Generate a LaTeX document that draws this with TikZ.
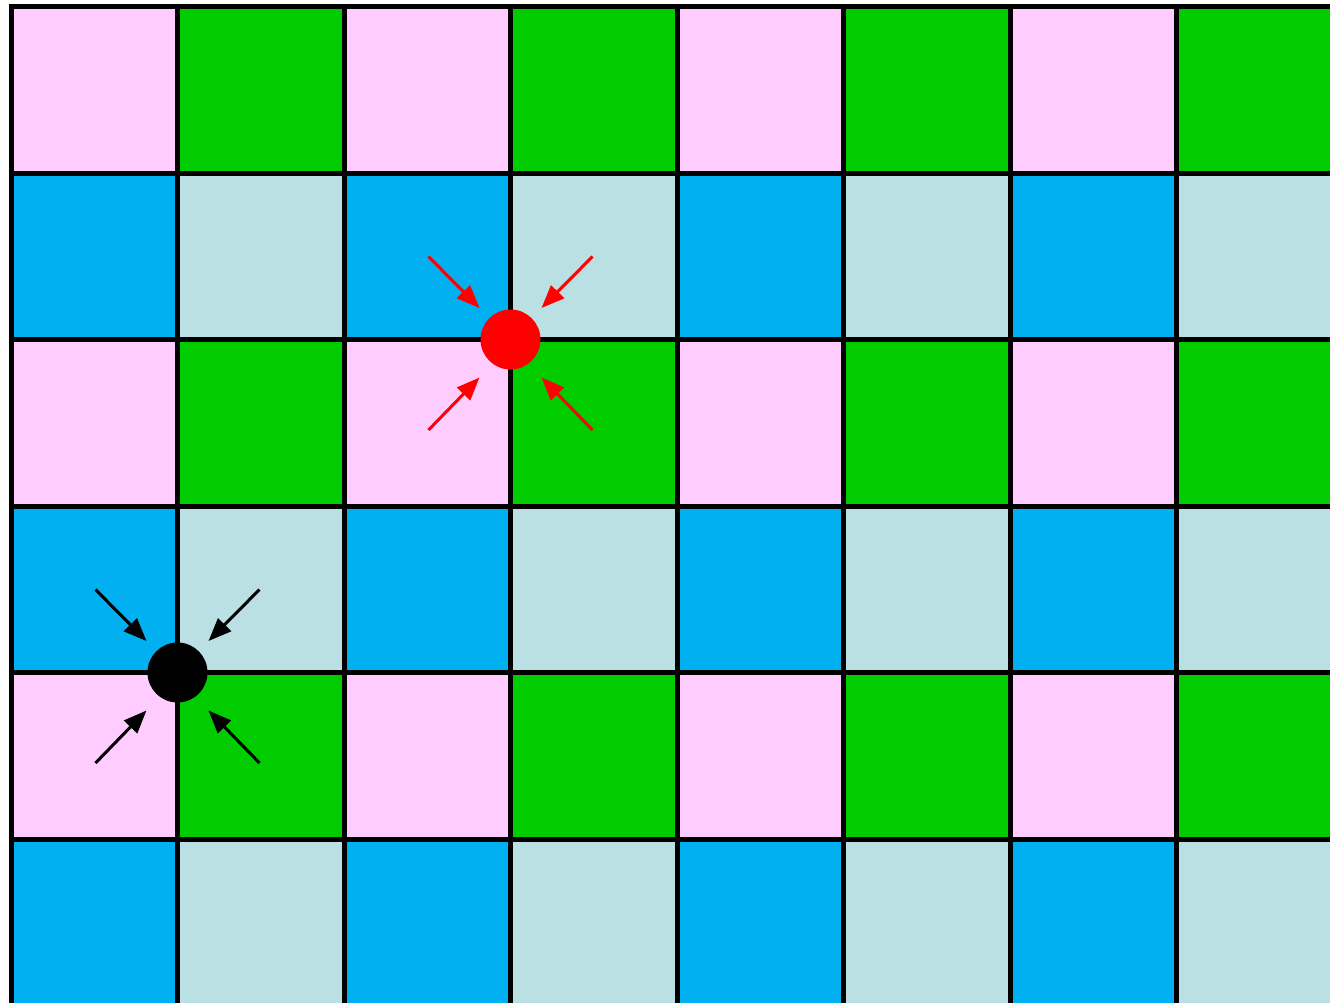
\documentclass[tikz,border=0pt]{standalone}
\usetikzlibrary{arrows.meta,calc}
\definecolor{cpink}{HTML}{FFCCFF}
\definecolor{cgreen}{HTML}{00CC00}
\definecolor{cblue}{HTML}{00B0F0}
\definecolor{clight}{HTML}{BBE0E3}
\tikzset{
  gridline/.style={line width=5pt, black},
  dotnode/.style={circle, minimum size=60pt, inner sep=0pt},
  pointer/.style={line width=3pt, -{Triangle[length=23pt,width=18pt]}},
}
\begin{document}
\begin{tikzpicture}[x=1pt,y=-1pt]
\useasboundingbox (0,0) rectangle (1330,1002);
\fill[white] (0,0) rectangle (1330,1002);
\begin{scope}
\clip (0,0) rectangle (1330,1002);
% cells
\foreach \r in {0,...,5}{
  \foreach \c in {0,...,7}{
    \pgfmathsetmacro{\xa}{11+166.5*\c}
    \pgfmathsetmacro{\ya}{6.5+166.5*\r}
    \pgfmathtruncatemacro{\re}{mod(\r,2)}
    \pgfmathtruncatemacro{\ce}{mod(\c,2)}
    \ifnum\re=0
      \ifnum\ce=0 \def\cc{cpink}\else\def\cc{cgreen}\fi
    \else
      \ifnum\ce=0 \def\cc{cblue}\else\def\cc{clight}\fi
    \fi
    \fill[\cc] (\xa,\ya) rectangle ++(166.5,166.5);
  }
}
% grid lines
\foreach \i in {0,...,7}{
  \draw[gridline] (11+166.5*\i,4) -- (11+166.5*\i,1010);
}
\foreach \j in {0,...,5}{
  \draw[gridline] (8.5,6.5+166.5*\j) -- (1340,6.5+166.5*\j);
}
\end{scope}
% red point
\node[dotnode, fill=red] (reddot) at (510.5,339.5) {};
\coordinate (ra1) at ($(reddot)+(-82,-83)$);
\coordinate (ra2) at ($(reddot)+(82,-83)$);
\coordinate (ra3) at ($(reddot)+(-82,90.5)$);
\coordinate (ra4) at ($(reddot)+(82,90.5)$);
\coordinate (rt1) at ($(reddot)+(-31,-31.5)$);
\coordinate (rt2) at ($(reddot)+(31,-31.5)$);
\coordinate (rt3) at ($(reddot)+(-31,38)$);
\coordinate (rt4) at ($(reddot)+(31,38)$);
\foreach \k in {1,...,4}{
  \draw[pointer, red] (ra\k) -- (rt\k);
}
% black point
\node[dotnode, fill=black] (blackdot) at (177.5,672.5) {};
\coordinate (ba1) at ($(blackdot)+(-82,-83)$);
\coordinate (ba2) at ($(blackdot)+(82,-83)$);
\coordinate (ba3) at ($(blackdot)+(-82,90.5)$);
\coordinate (ba4) at ($(blackdot)+(82,90.5)$);
\coordinate (bt1) at ($(blackdot)+(-31,-31.5)$);
\coordinate (bt2) at ($(blackdot)+(31,-31.5)$);
\coordinate (bt3) at ($(blackdot)+(-31,38)$);
\coordinate (bt4) at ($(blackdot)+(31,38)$);
\foreach \k in {1,...,4}{
  \draw[pointer, black] (ba\k) -- (bt\k);
}
\end{tikzpicture}
\end{document}
